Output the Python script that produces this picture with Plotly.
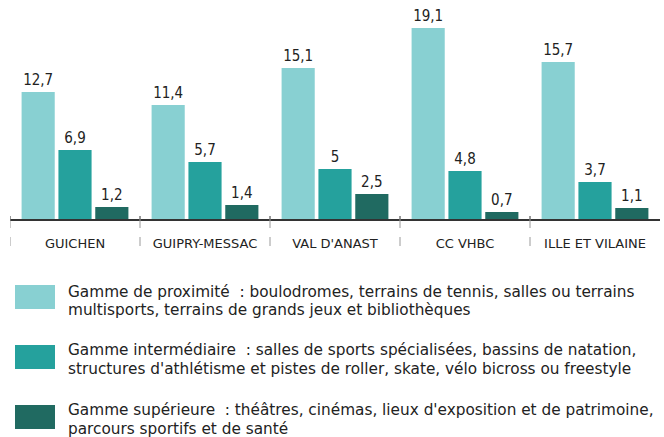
import plotly.graph_objects as go

categories = ["GUICHEN", "GUIPRY-MESSAC", "VAL D'ANAST", "CC VHBC", "ILLE ET VILAINE"]
proximite = [12.7, 11.4, 15.1, 19.1, 15.7]
intermediaire = [6.9, 5.7, 5.0, 4.8, 3.7]
superieure = [1.2, 1.4, 2.5, 0.7, 1.1]
series_lines = [
    ["Gamme de proximité\u00a0 : boulodromes, terrains de tennis, salles ou terrains",
     "multisports, terrains de grands jeux et bibliothèques"],
    ["Gamme intermédiaire\u00a0 : salles de sports spécialisées, bassins de natation,",
     "structures d'athlétisme et pistes de roller, skate, vélo bicross ou freestyle"],
    ["Gamme supérieure\u00a0 : théâtres, cinémas, lieux d'exposition et de patrimoine,",
     "parcours sportifs et de santé"],
]
colors = ["#88d0d2", "#25a19d", "#206a61"]
FONT = "DejaVu Sans, Roboto, sans-serif"
FONT_C = "DejaVu Sans Condensed, DejaVu Sans, sans-serif"


def fmt(v):
    s = ("%.1f" % v).rstrip("0").rstrip(".")
    return s.replace(".", ",")


W, H = 664, 437
L, R = 10, 4
T, B = 0, 218
PH = H - T - B
PW = W - L - R


def py(ypx):
    return (T + PH - ypx) / PH


def px(xpx):
    return (xpx - L) / PW


fig = go.Figure()
for vals, col in zip([proximite, intermediaire, superieure], colors):
    fig.add_trace(go.Bar(
        x=categories, y=vals, marker=dict(color=col, line=dict(width=0)),
        text=[fmt(v) for v in vals], textposition="outside", cliponaxis=False,
        textfont=dict(family=FONT_C, size=15, color="#222222"),
        showlegend=False, hoverinfo="skip",
    ))

# group separators
for i in range(len(categories)):
    fig.add_shape(type="line", xref="x", yref="paper", x0=i - 0.5, x1=i - 0.5,
                  y0=py(219), y1=py(254), line=dict(color="#9a9a9a", width=1, dash="dash"))
    fig.add_shape(type="line", xref="x", yref="paper", x0=i - 0.5, x1=i - 0.5,
                  y0=py(216), y1=py(219), line=dict(color="#333", width=1))

# legend
sw_tops = [285, 345, 405]
line_ys = [(292, 310), (350, 369), (410, 429)]
for lines, col, top, ys in zip(series_lines, colors, sw_tops, line_ys):
    fig.add_shape(type="rect", xref="paper", yref="paper",
                  x0=px(15), x1=px(55), y0=py(top), y1=py(top + 24),
                  fillcolor=col, line=dict(width=0))
    for txt, yy in zip(lines, ys):
        fig.add_annotation(xref="paper", yref="paper", x=px(66), y=py(yy),
                           xanchor="left", yanchor="middle", align="left", showarrow=False,
                           text=txt, font=dict(family=FONT, size=15.3, color="#222222"))

fig.update_layout(
    width=W, height=H, margin=dict(l=L, r=R, t=T, b=B, autoexpand=False),
    paper_bgcolor="white", plot_bgcolor="white",
    barmode="group", bargap=0.15, bargroupgap=0.1,
    xaxis=dict(range=[-0.5, 4.5], showgrid=False, showline=True, linecolor="#333", linewidth=1.5,
               ticks="", ticklabelstandoff=12, automargin=False,
               tickfont=dict(family=FONT, size=13, color="#222222"),
               fixedrange=True),
    yaxis=dict(range=[0, PH / 10.0], visible=False, fixedrange=True, automargin=False),
)
fig.write_html("out.html", config={"displayModeBar": False},
               post_script="document.body.style.margin='0';document.body.style.overflow='hidden';")
